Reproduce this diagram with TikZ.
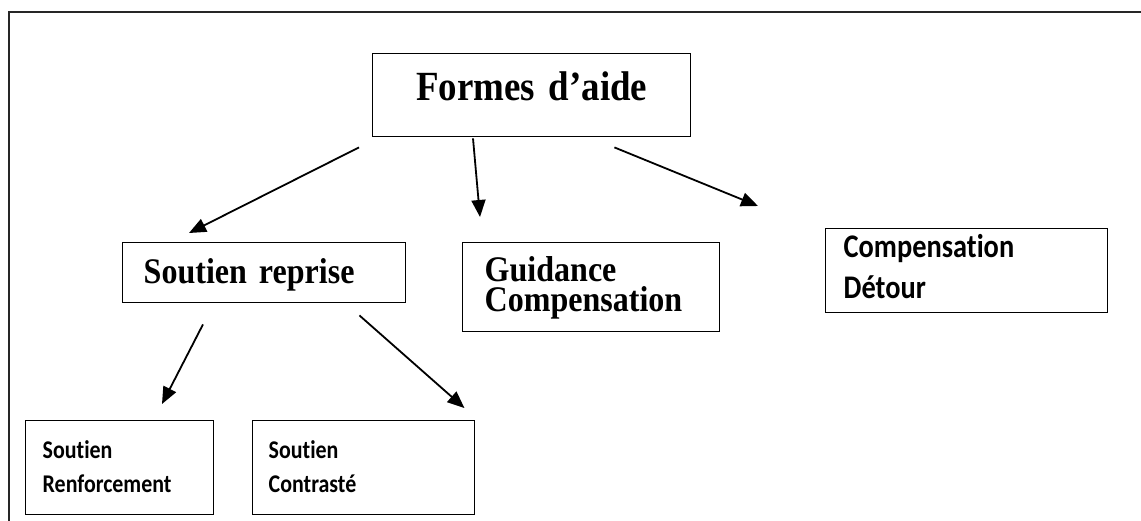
\documentclass[tikz,border=0pt]{standalone}
\usepackage{fontspec}
\newfontfamily\timesf[FakeStretch=0.89]{Liberation Serif}
\newfontfamily\calib[FakeStretch=0.86,Ligatures=NoCommon]{Carlito}
\usetikzlibrary{arrows.meta,calc}
\tikzset{
  box/.style={draw, line width=1.4pt, rectangle, inner ysep=0pt, anchor=north west},
  con/.style={line width=1.8pt, -{Triangle[length=17pt,width=14pt]}},
  frame/.style={line width=2pt, draw=black!85}
}
\begin{document}
\begin{tikzpicture}[x=1pt,y=-1pt]
\useasboundingbox (0,0) rectangle (1141,521);
\draw[frame] (9,521) -- (9,12) -- (1141,12);

\node[box, inner xsep=0pt, text width=318pt, align=center, text height=47pt, text depth=36pt,
  font={\timesf\bfseries\fontsize{41.5}{48}\selectfont}] (formes) at (372,53) {Formes d’aide};

\node[box, inner xsep=21pt, text width=241pt, align=left, text height=41pt, text depth=19pt,
  font={\timesf\bfseries\fontsize{36}{30}\selectfont}] (reprise) at (122,242) {Soutien reprise};

\node[box, inner xsep=22pt, text width=213pt, align=left, text height=39pt, text depth=50pt,
  font={\timesf\bfseries\fontsize{36}{30}\selectfont}] (guidance) at (462,242) {Guidance\\Compensation};

\node[box, inner xsep=18pt, text width=246pt, align=left, text height=29pt, text depth=55pt,
  font={\calib\bfseries\fontsize{33}{41}\selectfont}] (detour) at (825,228) {Compensation\\Détour};

\node[box, inner xsep=17pt, text width=154pt, align=left, text height=38pt, text depth=56pt,
  font={\calib\bfseries\fontsize{25.5}{34}\selectfont}] (renf) at (25,420) {Soutien\\Renforcement};

\node[box, inner xsep=16pt, text width=190pt, align=left, text height=38pt, text depth=56pt,
  font={\calib\bfseries\fontsize{25.5}{34}\selectfont}] (contr) at (252,420) {Soutien\\Contrasté};

\draw[con] ($(formes.south west)+(-13,10)$) -- ($(reprise.north west)+(67,-9)$);
\draw[con] ($(formes.south west)+(101,1)$) -- ($(guidance.north west)+(18,-25)$);
\draw[con] ($(formes.south east)+(-77,10)$) -- ($(detour.north west)+(-67,-22)$);
\draw[con] ($(reprise.south west)+(81,21)$) -- ($(renf.north west)+(137,-16)$);
\draw[con] ($(reprise.south east)+(-47,12)$) -- ($(contr.north east)+(-11,-12)$);
\end{tikzpicture}
\end{document}
